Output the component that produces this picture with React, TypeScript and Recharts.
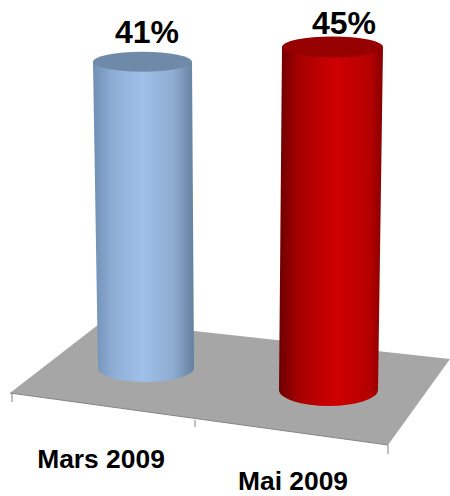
import { BarChart, Bar, XAxis, YAxis, LabelList } from "recharts";

const months = ["Mars 2009", "Mai 2009"];
const shares = [41, 45];
const barColors = ["Blue", "Red"];

const rows = months.map((month, i) => ({ month, share: shares[i] }));

// fake 3d: how each cylinder sits on the floor, relative to its band
const cylinderViews = [
  { baseDx: 40, topDx: 36.5, baseWidth: 96, topWidth: 99, lift: 52, stretch: 0.98, baseRy: 14, topRy: 10, cap: "#6f8aa9", labelDx: 41, labelDy: -19 },
  { baseDx: 34.5, topDx: 38.5, baseWidth: 99, topWidth: 101, lift: 30, stretch: 1, baseRy: 16, topRy: 10.5, cap: "#960000", labelDx: 50, labelDy: -13 },
];
const tickViews = [
  { dx: -5, y: 468 },
  { dx: -1, y: 490 },
];

const FLOOR = "10,393 103,321 450,359 388,445";
const FLOOR_TICKS = [
  [12, 393, 12, 402],
  [195, 420, 195, 427],
  [388, 445, 388, 454],
];

function Cylinder(props: any) {
  const { x, y, width, height, index } = props;
  const v = cylinderViews[index];
  const cx = x + width / 2;
  const yb = y + height - v.lift;
  const yt = yb - height * v.stretch;
  const bl = cx + v.baseDx - v.baseWidth / 2;
  const br = cx + v.baseDx + v.baseWidth / 2;
  const tl = cx + v.topDx - v.topWidth / 2;
  const tr = cx + v.topDx + v.topWidth / 2;
  const body = `M${tl},${yt} L${bl},${yb} A${v.baseWidth / 2},${v.baseRy} 0 0 0 ${br},${yb} L${tr},${yt} Z`;
  return (
    <g>
      <path d={body} fill={`url(#cyl${barColors[index]})`} />
      <ellipse cx={cx + v.topDx} cy={yt} rx={v.topWidth / 2} ry={v.topRy} fill={v.cap} />
    </g>
  );
}

function ShareLabel(props: any) {
  const { x, y, width, height, value, index } = props;
  const v = cylinderViews[index];
  const yt = y + height - v.lift - height * v.stretch;
  return (
    <text
      x={x + width / 2 + v.labelDx}
      y={yt + v.labelDy}
      textAnchor="middle"
      fontFamily="Liberation Sans"
      fontWeight="bold"
      fontSize={32}
      fill="#000"
    >
      {value}%
    </text>
  );
}

function MonthTick(props: any) {
  const { x, payload, index } = props;
  const t = tickViews[index];
  return (
    <text
      x={x + t.dx}
      y={t.y}
      textAnchor="middle"
      fontFamily="Liberation Sans"
      fontWeight="bold"
      fontSize={26.4}
      fill="#000"
    >
      {payload.value}
    </text>
  );
}

export default function App() {
  return (
    <div style={{ position: "absolute", left: 0, top: 0, width: 450, height: 496, background: "#fff" }}>
      <BarChart
        width={450}
        height={496}
        data={rows}
        barSize={100}
        margin={{ top: 77, right: 62, left: 12, bottom: 46 }}
      >
        <defs>
          <linearGradient id="cylBlue" x1="0" y1="0" x2="1" y2="0">
            <stop offset="0" stopColor="#6f8fb4" />
            <stop offset="0.2" stopColor="#8eaed6" />
            <stop offset="0.5" stopColor="#9fc0e9" />
            <stop offset="0.8" stopColor="#8eabd0" />
            <stop offset="1" stopColor="#64809f" />
          </linearGradient>
          <linearGradient id="cylRed" x1="0" y1="0" x2="1" y2="0">
            <stop offset="0" stopColor="#6d0000" />
            <stop offset="0.2" stopColor="#a80000" />
            <stop offset="0.55" stopColor="#cf0000" />
            <stop offset="0.88" stopColor="#b30000" />
            <stop offset="1" stopColor="#860000" />
          </linearGradient>
        </defs>
        <polygon points={FLOOR} fill="#a6a6a6" />
        <polyline points="10,393 388,445" fill="none" stroke="#858585" strokeWidth={1} />
        {FLOOR_TICKS.map(([x1, y1, x2, y2]) => (
          <line key={x1} x1={x1} y1={y1} x2={x2} y2={y2} stroke="#808080" strokeWidth={1} />
        ))}
        <XAxis dataKey="month" axisLine={false} tickLine={false} height={30} interval={0} tick={<MonthTick />} />
        <YAxis hide domain={[0, 45]} />
        <Bar dataKey="share" isAnimationActive={false} shape={<Cylinder />}>
          <LabelList dataKey="share" content={<ShareLabel />} />
        </Bar>
      </BarChart>
    </div>
  );
}
